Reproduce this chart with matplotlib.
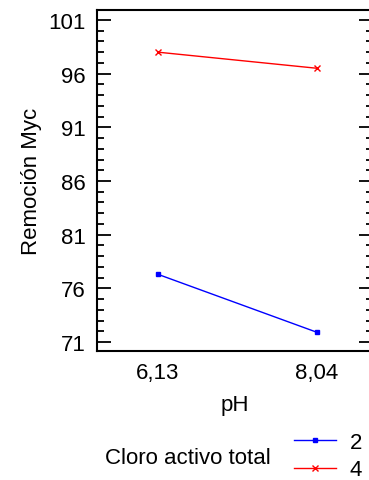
import matplotlib
matplotlib.use("Agg")
import matplotlib.pyplot as plt
from matplotlib.ticker import MultipleLocator
from matplotlib.lines import Line2D

plt.rcParams['font.family'] = ['Liberation Sans', 'DejaVu Sans']

# datos
ph_labels = ["6,13", "8,04"]
cloro_2 = [77.3, 71.9]
cloro_4 = [98.0, 96.5]
yticks = [71, 76, 81, 86, 91, 96, 101]

W, H = 369, 481
fig = plt.figure(figsize=(W / 100, H / 100), dpi=100)
ax = fig.add_axes([97 / W, 1 - 352 / H, 276 / W, 341 / H])

x = list(range(len(ph_labels)))
ax.plot(x, cloro_2, color='#0000ff', lw=1, marker='s', ms=3, mfc='#0000ff', mec='#0000ff')
ax.plot(x, cloro_4, color='#ff0000', lw=1, marker='x', ms=4, mew=1)

ax.set_xlim(-0.384, 1.352)
ax.set_ylim(70.16, 101.93)
ax.set_xticks(x)
ax.set_xticklabels(ph_labels)
ax.set_yticks(yticks)
ax.yaxis.set_minor_locator(MultipleLocator(1))
ax.tick_params(axis='x', length=0, pad=8, labelsize=16)
ax.tick_params(axis='y', which='major', direction='in', length=10, width=1.3,
               right=True, pad=8, labelsize=16)
ax.tick_params(axis='y', which='minor', direction='in', length=5, width=1.3, right=True)
for s in ax.spines.values():
    s.set_linewidth(1.5)
ax.spines['right'].set_visible(False)  # queda fuera del recorte

ax.set_xlabel('pH', fontsize=16, labelpad=8)
ax.set_ylabel('Remoción Myc', fontsize=16, labelpad=5)

# leyenda
fig.text(105 / W, 1 - 458 / H, 'Cloro activo total', fontsize=16, va='center', ha='left')
handles = [
    Line2D([], [], color='#0000ff', lw=1, marker='s', ms=3),
    Line2D([], [], color='#ff0000', lw=1, marker='x', ms=4),
]
fig.legend(handles, ['2', '4'], loc='center left', bbox_to_anchor=(283 / W, 1 - 457 / H),
           frameon=False, fontsize=16, handlelength=1.9, handletextpad=0.6,
           labelspacing=0.3, borderpad=0)

fig.savefig('out.png', dpi=100)
